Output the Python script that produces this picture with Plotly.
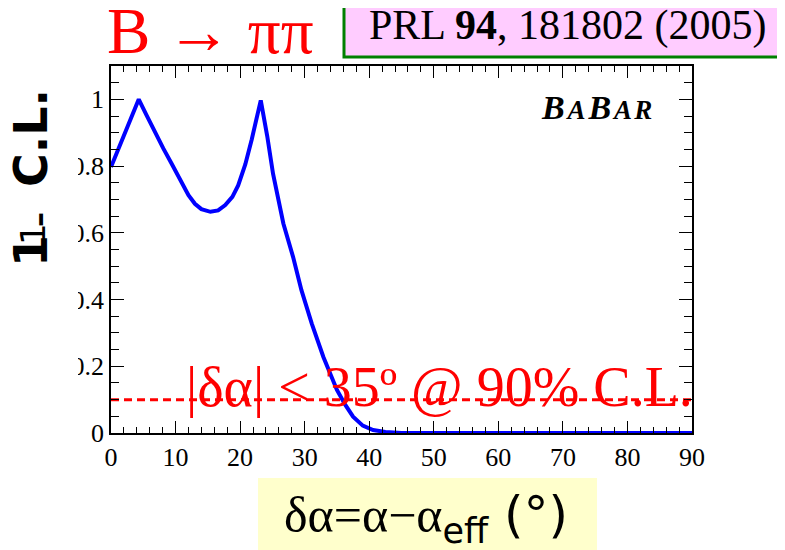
import plotly.graph_objects as go

# Curve: 1 - C.L. versus delta alpha (degrees)
delta_alpha = [0, 2, 4.3, 5.5, 6.8, 8.1, 9.4, 10.7, 12.0, 13.0, 14.0, 15.4, 16.6,
               17.7, 18.8, 19.7, 20.8, 21.8, 22.6, 23.2,
               24.2, 25.1, 26.7, 28.2, 29.5, 31.1, 32.9, 35.0, 36.3, 37.5, 39.0,
               40.6, 42.5, 45, 50, 60, 70, 80, 90]
one_minus_cl = [0.797, 0.893, 1.0, 0.953, 0.902, 0.853, 0.807, 0.758, 0.713, 0.687,
                0.671, 0.663, 0.667, 0.683, 0.708, 0.742, 0.805, 0.88, 0.946, 0.997,
                0.89, 0.777, 0.628, 0.528, 0.428, 0.328, 0.228, 0.129, 0.084, 0.049,
                0.022, 0.009, 0.003, 0.0, 0.0, 0.0, 0.0, 0.0, 0.0]

cl_level_x = [0, 90]
cl_level_y = [0.1, 0.1]

x_ticks = [0, 10, 20, 30, 40, 50, 60, 70, 80, 90]
y_ticks = [0, 0.2, 0.4, 0.6, 0.8, 1]
y_tick_text = ["0", "0.2", "0.4", "0.6", "0.8", "1"]

# page is offset by the browser's 8px body margin
OFF = 8
PL, PR, PT, PB = 111, 692, 66, 433   # plot area in page pixels
PW, PH = PR - PL, PB - PT


def px(x):
    return (x - PL) / PW


def py(y):
    return (PB - y) / PH


fig = go.Figure()
fig.add_trace(go.Scatter(x=delta_alpha, y=one_minus_cl, mode="lines",
                         line=dict(color="#0000ff", width=4), showlegend=False))
fig.add_trace(go.Scatter(x=cl_level_x, y=cl_level_y, mode="lines",
                         line=dict(color="#ff0000", width=3, dash="8px,5px"),
                         showlegend=False))

serif = "Liberation Serif, Times New Roman, Times, serif"
W, H = 785 - OFF, 550 - OFF
fig.update_layout(
    width=W, height=H,
    margin=dict(l=PL - OFF, r=W - (PR - OFF), t=PT - OFF, b=H - (PB - OFF), autoexpand=False),
    paper_bgcolor="white", plot_bgcolor="white",
    font=dict(family=serif, size=26, color="black"),
    xaxis=dict(range=[0, 90], tickvals=x_ticks, ticks="inside", ticklen=12,
               tickwidth=1.2, tickcolor="black", showline=True, linecolor="black",
               linewidth=1.5, mirror="allticks", showgrid=False, zeroline=False,
               minor=dict(dtick=2, ticks="inside", ticklen=6, tickcolor="black",
                          tickwidth=1),
               tickfont=dict(family=serif, size=26, color="black")),
    yaxis=dict(range=[0, 1.1], tickvals=y_ticks, ticktext=y_tick_text,
               ticks="inside", ticklen=13, tickwidth=1.2, tickcolor="black",
               showline=True, linecolor="black", linewidth=1.5, mirror="allticks",
               showgrid=False, zeroline=False,
               minor=dict(dtick=0.05, ticks="inside", ticklen=8, tickcolor="black",
                          tickwidth=1),
               tickfont=dict(family=serif, size=26, color="black")),
)

# white strip that clips the left part of the y tick labels
fig.add_shape(type="rect", xref="paper", yref="paper", x0=px(0), x1=px(78),
              y0=py(460), y1=py(70), fillcolor="white", line=dict(width=0), layer="above")

# PRL box
fig.add_shape(type="rect", xref="paper", yref="paper",
              x0=px(344), x1=px(800), y0=py(57), y1=py(-10),
              fillcolor="#ffccff", line=dict(color="#008000", width=3), layer="above")
# Yellow box for x title
fig.add_shape(type="rect", xref="paper", yref="paper",
              x0=px(258), x1=px(597), y0=py(560), y1=py(478),
              fillcolor="#ffffcc", line=dict(width=0), layer="above")

ann = []


def add(text, x, y, size, color="black", family=serif, angle=0):
    ann.append(dict(text=text, xref="paper", yref="paper", x=px(x), y=py(y),
                    xanchor="center", yanchor="middle", showarrow=False,
                    textangle=angle, font=dict(family=family, size=size, color=color)))


add("B \u2192 \u03c0\u03c0", 210, 31, 65, color="#ff0000")
add("PRL <b>94</b>, 181802 (2005)", 567, 26, 42)
add("<b><i>B\u200a<span style='font-size:27px'>A</span>\u200aB\u200a"
    "<span style='font-size:27px'>A\u200aR</span></i></b>", 596, 107, 34)
add("|\u03b4\u03b1| < 35\u00ba @ 90% C.L.", 439, 387, 56, color="#ff0000")
add("\u03b4\u03b1=\u03b1\u2212\u03b1<span style='font-family:DejaVu Sans'><sub>eff</sub> (\u00b0)</span>",
    426, 518, 50)
# y-axis title "1– C.L." drawn in pieces (the 1 is doubled in the original)
sans = "DejaVu Sans"
add("<b>C.L.</b>", 31, 138, 46, family=sans, angle=-90)
add("<b>\u2013</b>", 38, 220, 30, family=sans, angle=-90)
add("1", 33, 234, 34, family=sans, angle=-90)
add("<b>1</b>", 31, 251, 46, family=sans, angle=-90)
fig.update_layout(annotations=ann)

fig.write_html("out.html")
